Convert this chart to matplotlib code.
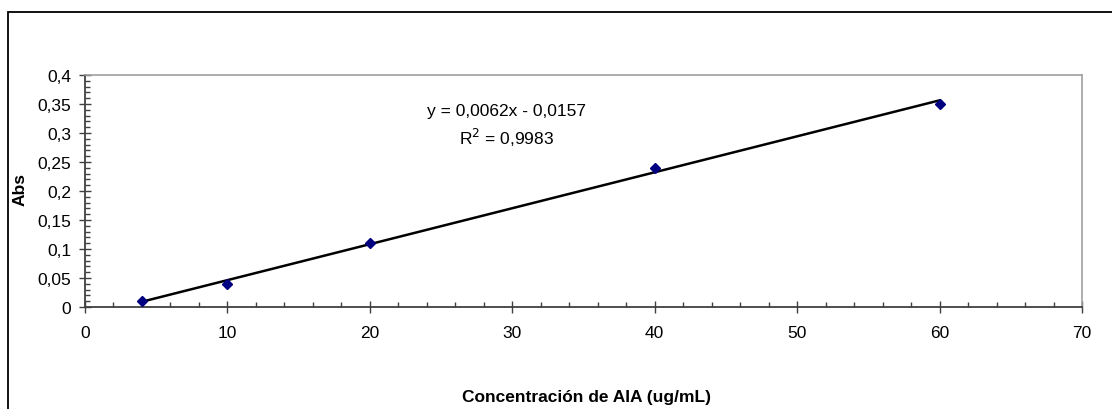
import numpy as np
import matplotlib
matplotlib.use('Agg')
import matplotlib.pyplot as plt
from matplotlib.ticker import MultipleLocator, FuncFormatter
from matplotlib.patches import Rectangle

plt.rcParams['font.family'] = ['Liberation Sans', 'DejaVu Sans']

conc = [4, 10, 20, 40, 60]
absorb = [0.01, 0.04, 0.11, 0.24, 0.35]
slope = 0.0062
intercept = -0.0157
x_ticks = [0, 10, 20, 30, 40, 50, 60, 70]
y_ticks = [0, 0.05, 0.1, 0.15, 0.2, 0.25, 0.3, 0.35, 0.4]


def comma_fmt(v, pos):
    return f'{v:g}'.replace('.', ',')


fig = plt.figure(figsize=(11.12, 4.10), dpi=100)
ax = fig.add_axes([85 / 1112, 102 / 410, 997 / 1112, 232 / 410])

# outer chart border (only left and top visible in the crop)
fig.patches.append(Rectangle((8 / 1112, -0.1), 1.2, (397 / 410) + 0.1,
                             transform=fig.transFigure, fill=False,
                             edgecolor='black', linewidth=1.3))

# trendline
xl = np.array([conc[0], conc[-1]])
ax.plot(xl, slope * xl + intercept, color='black', linewidth=1.8, zorder=2)
ax.plot(conc, absorb, linestyle='none', marker='D', markersize=5.5,
        color='#000080', zorder=3)

ax.text(29.6, 0.338, 'y = 0,0062x - 0,0157', ha='center', va='center', fontsize=12.5)
ax.text(29.6, 0.294, r'R$^2$ = 0,9983', ha='center', va='center', fontsize=12.5)

ax.set_xlim(0, 70)
ax.set_ylim(0, 0.4)
ax.set_xticks(x_ticks)
ax.set_yticks(y_ticks)
ax.xaxis.set_minor_locator(MultipleLocator(2))
ax.yaxis.set_minor_locator(MultipleLocator(0.01))
ax.xaxis.set_major_formatter(FuncFormatter(comma_fmt))
ax.yaxis.set_major_formatter(FuncFormatter(comma_fmt))

ax.tick_params(which='major', direction='inout', length=8, width=1, color='#404040',
               labelsize=12.5)
ax.tick_params(which='minor', direction='in', length=3.5, width=1, color='#404040')
ax.tick_params(axis='x', which='major', pad=9)
ax.tick_params(axis='y', which='major', pad=6)

for side in ['left', 'bottom']:
    ax.spines[side].set_color('#404040')
    ax.spines[side].set_linewidth(1.3)
for side in ['top', 'right']:
    ax.spines[side].set_color('#a0a0a0')
    ax.spines[side].set_linewidth(1.2)

fig.text(20 / 1112, 1 - 190 / 410, 'Abs', rotation=90, ha='center', va='center',
         fontsize=12.5, fontweight='bold')
fig.text(587 / 1112, 1 - 398 / 410, 'Concentración de AIA (ug/mL)', ha='center',
         va='center', fontsize=12.5, fontweight='bold')

fig.savefig('out.png', dpi=100)
